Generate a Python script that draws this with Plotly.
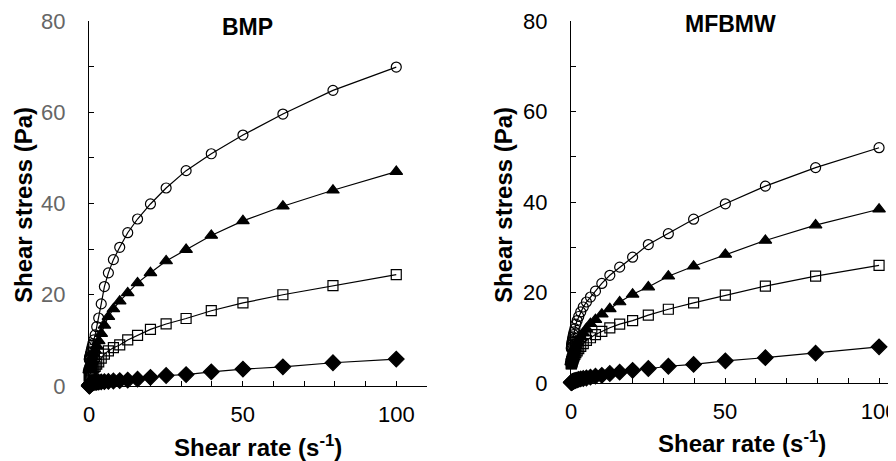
import plotly.graph_objects as go

# shear rate (1/s), log-spaced sweep, high to low
rate = [100, 79.4, 63.1, 50.1, 39.8, 31.6, 25.1, 20.0, 15.8, 12.6, 10.0,
        7.94, 6.31, 5.01, 3.98, 3.16, 2.51, 2.0, 1.58, 1.26, 1.0,
        0.794, 0.631, 0.501, 0.398, 0.316, 0.251, 0.2, 0.158, 0.126, 0.1]

# BMP panel
bmp_circle = [69.9, 64.8, 59.6, 55.0, 50.9, 47.2, 43.4, 39.9, 36.6, 33.6, 30.4,
              27.7, 24.8, 21.8, 18.0, 14.9, 13.0, 11.2, 10.1, 9.3, 8.6,
              8.0, 7.5, 7.1, 6.8, 6.5, 6.3, 6.1, 6.0, 5.9, 5.8]
bmp_triangle = [47.0, 42.9, 39.4, 36.2, 33.0, 29.9, 27.4, 24.8, 22.6, 20.4, 18.6,
                16.9, 15.2, 13.3, 11.5, 9.9, 8.8, 7.8, 7.0, 6.3, 5.7,
                5.3, 5.0, 4.7, 4.5, 4.3, 4.1, 3.9, 3.8, 3.6, 3.5]
bmp_square = [24.4, 22.0, 20.0, 18.2, 16.5, 14.8, 13.6, 12.4, 11.1, 10.1, 9.0,
              8.4, 7.7, 7.0, 6.1, 5.3, 4.8, 4.3, 4.0, 3.7, 3.5,
              3.3, 3.1, 2.9, 2.8, 2.6, 2.5, 2.4, 2.3, 2.2, 2.1]
bmp_diamond = [5.9, 5.1, 4.2, 3.7, 3.1, 2.5, 2.3, 1.9, 1.5, 1.3, 1.2,
               1.1, 1.0, 0.95, 0.9, 0.85, 0.8, 0.8, 0.75, 0.7, 0.7,
               0.6, 0.5, 0.4, 0.3, 0.25, 0.2, 0.15, 0.1, 0.05, 0.0]

# MFBMW panel
mf_circle = [52.0, 47.6, 43.5, 39.6, 36.2, 33.0, 30.6, 27.8, 25.6, 23.8, 22.0,
             20.3, 19.0, 17.9, 16.8, 15.7, 14.7, 13.8, 13.0, 12.0, 11.3,
             10.7, 10.2, 9.7, 9.3, 8.9, 8.6, 8.3, 8.0, 7.8, 7.6]
mf_triangle = [38.4, 34.9, 31.5, 28.4, 25.8, 23.6, 21.2, 19.6, 17.9, 16.4, 15.2,
               14.0, 13.1, 12.0, 11.0, 10.2, 9.5, 8.8, 8.2, 7.7, 7.2,
               6.8, 6.4, 6.0, 5.7, 5.4, 5.2, 5.0, 4.8, 4.7, 4.6]
mf_square = [26.0, 23.6, 21.4, 19.4, 17.7, 16.3, 15.0, 13.8, 13.0, 12.2, 11.4,
             10.7, 10.0, 9.4, 8.7, 8.1, 7.6, 7.1, 6.7, 6.3, 6.0,
             5.7, 5.4, 5.2, 5.0, 4.8, 4.6, 4.5, 4.4, 4.3, 4.2]
mf_diamond = [8.0, 6.6, 5.6, 4.9, 4.1, 3.7, 3.2, 2.8, 2.4, 2.1, 1.7,
              1.5, 1.3, 1.1, 1.0, 0.9, 0.8, 0.7, 0.6, 0.5, 0.45,
              0.4, 0.35, 0.3, 0.25, 0.2, 0.18, 0.15, 0.12, 0.1, 0.1]

FONT = "Liberation Sans, Arial, sans-serif"
# page body has an 8px margin, so the figure sits at (8, 8) in the window
OFF = 8
W, H = 896 - OFF, 461 - OFF

styles = [
    ("circle-open", 10),
    ("triangle-up", 11),
    ("square-open", 10),
    ("diamond", 12),
]

fig = go.Figure()


def add_panel(series, xa, ya):
    for ys, (sym, sz) in zip(series, styles):
        fig.add_trace(go.Scatter(
            x=rate, y=ys, xaxis=xa, yaxis=ya,
            mode="lines+markers",
            line=dict(color="black", width=1.2),
            marker=dict(symbol=sym, size=sz, color="black",
                        line=dict(color="black", width=1.2)),
            cliponaxis=False, showlegend=False,
        ))


add_panel([bmp_circle, bmp_triangle, bmp_square, bmp_diamond], "x", "y")
add_panel([mf_circle, mf_triangle, mf_square, mf_diamond], "x2", "y2")


def px(v):
    return (v - OFF) / W


def py(v):
    return 1 - (v - OFF) / H


def xaxis(x0, x1, xmax, anchor):
    return dict(
        domain=[px(x0), min(px(x1), 1)], range=[0, xmax], anchor=anchor,
        automargin=False, ticklabeloverflow="allow",
        showline=True, linecolor="black", linewidth=1.2,
        showgrid=False, zeroline=False,
        ticks="inside", ticklen=5, tickcolor="black",
        tickvals=[0, 50, 100], ticklabelstandoff=8,
        minor=dict(dtick=10, ticks="inside", ticklen=5, tickcolor="black"),
        tickfont=dict(family=FONT, size=22, color="black"),
    )


def yaxis(y0, y1, anchor, col):
    return dict(
        domain=[py(y0), py(y1)], range=[0, 80], anchor=anchor,
        automargin=False,
        showline=True, linecolor="black", linewidth=1.2,
        showgrid=False, zeroline=False,
        ticks="inside", ticklen=5, tickcolor="black",
        dtick=20, ticklabelstandoff=18,
        minor=dict(dtick=10, ticks="inside", ticklen=5, tickcolor="black"),
        tickfont=dict(family=FONT, size=22, color=col),
    )


fig.update_layout(
    width=W, height=H,
    margin=dict(l=0, r=0, t=0, b=0),
    paper_bgcolor="white", plot_bgcolor="white",
    xaxis=xaxis(89, 427, 110, "y"),
    yaxis=yaxis(386, 21, "x", "#666666"),
    xaxis2=xaxis(571, 896, 105.5, "y2"),
    yaxis2=yaxis(383, 21, "x2", "black"),
)

ann = [
    ("<b>BMP</b>", 247, 27, 0, 23),
    ("<b>MFBMW</b>", 730, 24, 0, 23),
    ("<b>Shear stress (Pa)</b>", 23, 205, -90, 24),
    ("<b>Shear stress (Pa)</b>", 503, 205, -90, 24),
    ("<b>Shear rate (s<sup>-1</sup>)</b>", 258, 446, 0, 24),
    ("<b>Shear rate (s<sup>-1</sup>)</b>", 742, 442, 0, 24),
]
for txt, ax, ay, ang, fs in ann:
    fig.add_annotation(
        text=txt, x=px(ax), y=py(ay), xref="paper", yref="paper",
        xanchor="center", yanchor="middle", showarrow=False, textangle=ang,
        font=dict(family=FONT, size=fs, color="black"),
    )

fig.write_html("out.html")
